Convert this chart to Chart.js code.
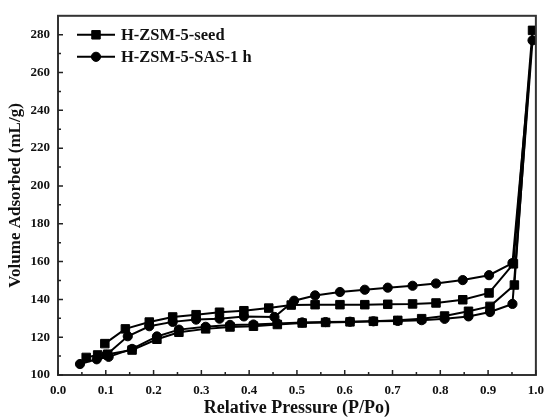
<!DOCTYPE html>
<html><head><meta charset="utf-8">
<script src="https://cdn.jsdelivr.net/npm/chart.js@4.4.0/dist/chart.umd.min.js"></script>
<style>html,body{margin:0;padding:0;background:#fff}</style>
</head><body>
<canvas id="c" width="552" height="419" style="width:552px;height:419px;display:block"></canvas>
<script>
const seriesNames = ['H-ZSM-5-seed', 'H-ZSM-5-SAS-1 h'];
const xTitle = 'Relative Pressure (P/Po)';
const yTitle = 'Volume Adsorbed (mL/g)';

// H-ZSM-5-seed: adsorption branch then desorption branch
const seedAdsP = [0.059, 0.083, 0.104, 0.155, 0.207, 0.253, 0.309, 0.360, 0.409, 0.459, 0.511, 0.560, 0.611, 0.660, 0.711, 0.761, 0.809, 0.859, 0.904, 0.955, 0.993];
const seedAdsV = [109.3, 110.6, 111.0, 113.2, 118.9, 122.6, 124.4, 125.4, 125.8, 126.7, 127.5, 127.8, 128.1, 128.4, 128.9, 129.8, 131.2, 133.7, 136.3, 147.6, 282.3];
const seedDesP = [0.953, 0.902, 0.847, 0.791, 0.742, 0.690, 0.642, 0.590, 0.538, 0.488, 0.441, 0.389, 0.338, 0.289, 0.240, 0.191, 0.141, 0.098];
const seedDesV = [158.8, 143.4, 139.8, 138.1, 137.6, 137.4, 137.2, 137.2, 137.2, 137.0, 135.4, 134.0, 133.2, 131.9, 130.7, 128.0, 124.4, 116.6];

// H-ZSM-5-SAS-1 h
const sasAdsP = [0.046, 0.081, 0.106, 0.155, 0.207, 0.253, 0.309, 0.360, 0.409, 0.459, 0.511, 0.560, 0.611, 0.660, 0.711, 0.761, 0.809, 0.859, 0.904, 0.951, 0.993];
const sasAdsV = [105.8, 108.3, 109.6, 113.8, 120.4, 124.0, 125.5, 126.5, 126.7, 127.3, 127.8, 128.0, 128.2, 128.4, 128.6, 129.0, 129.7, 131.0, 133.3, 137.6, 277.0];
const sasDesP = [0.951, 0.902, 0.847, 0.791, 0.742, 0.690, 0.642, 0.590, 0.538, 0.494, 0.453, 0.389, 0.338, 0.289, 0.240, 0.191, 0.146, 0.101];
const sasDesV = [159.2, 152.8, 150.2, 148.4, 147.2, 146.2, 145.1, 143.9, 142.1, 139.3, 130.7, 131.0, 129.8, 129.3, 128.1, 125.8, 120.5, 110.6];

const xMin = 0, xMax = 1, xStep = 0.1;
const yMin = 100, yMax = 290, yStep = 20;

function toPts(px, vy) { return px.map((p, i) => ({x: p, y: vy[i]})); }

const FONT = "'Liberation Serif', 'Times New Roman', serif";
const INK = '#111';

const framePlugin = {
  id: 'frame',
  afterDraw(chart) {
    const ctx = chart.ctx, a = chart.chartArea;
    const xs = chart.scales.x, ys = chart.scales.y;
    ctx.save();
    ctx.strokeStyle = '#333';
    ctx.lineWidth = 2;
    ctx.strokeRect(a.left, a.top, a.right - a.left, a.bottom - a.top);
    ctx.lineWidth = 1.5;
    ctx.strokeStyle = '#222';
    ctx.beginPath();
    xs.ticks.forEach(t => {
      const px = xs.getPixelForValue(t.value);
      ctx.moveTo(px, a.bottom); ctx.lineTo(px, a.bottom - 5);
      const m = t.value + xStep / 2;
      if (m < xMax) {
        const pm = xs.getPixelForValue(m);
        ctx.moveTo(pm, a.bottom); ctx.lineTo(pm, a.bottom - 3);
      }
    });
    ys.ticks.forEach(t => {
      const py = ys.getPixelForValue(t.value);
      ctx.moveTo(a.left, py); ctx.lineTo(a.left + 5, py);
      const m = t.value + yStep / 2;
      if (m < yMax) {
        const pm = ys.getPixelForValue(m);
        ctx.moveTo(a.left, pm); ctx.lineTo(a.left + 3, pm);
      }
    });
    ctx.stroke();

    // legend inside plot area
    const items = chart.data.datasets;
    const lx0 = a.left + 19, lx1 = a.left + 57, tx = a.left + 63;
    items.forEach((ds, i) => {
      const ly = a.top + 19 + i * 22;
      ctx.strokeStyle = ds.borderColor;
      ctx.lineWidth = 2;
      ctx.beginPath(); ctx.moveTo(lx0, ly); ctx.lineTo(lx1, ly); ctx.stroke();
      ctx.fillStyle = '#000';
      ctx.strokeStyle = '#000';
      ctx.lineWidth = 1;
      Chart.helpers.drawPoint(ctx, {pointStyle: ds.pointStyle, radius: ds.pointRadius, borderWidth: 1}, (lx0 + lx1) / 2, ly);
      ctx.font = "bold 16.5px " + FONT;
      ctx.fillStyle = INK;
      ctx.textBaseline = 'middle';
      ctx.textAlign = 'left';
      ctx.fillText(ds.label, tx, ly + 1);
    });
    ctx.restore();
  }
};

const chart = new Chart(document.getElementById('c'), {
  type: 'scatter',
  data: {
    datasets: [
      {
        label: seriesNames[0],
        data: toPts(seedAdsP, seedAdsV).concat(toPts(seedDesP, seedDesV)),
        showLine: true,
        borderColor: '#000',
        borderWidth: 2,
        backgroundColor: '#000',
        pointStyle: 'rect',
        pointRadius: 6,
        pointBackgroundColor: '#000',
        pointBorderColor: '#000',
        pointBorderWidth: 1,
        tension: 0
      },
      {
        label: seriesNames[1],
        data: toPts(sasAdsP, sasAdsV).concat(toPts(sasDesP, sasDesV)),
        showLine: true,
        borderColor: '#000',
        borderWidth: 2,
        backgroundColor: '#000',
        pointStyle: 'circle',
        pointRadius: 4.6,
        pointBackgroundColor: '#000',
        pointBorderColor: '#000',
        pointBorderWidth: 1,
        tension: 0
      }
    ]
  },
  options: {
    responsive: false,
    animation: false,
    devicePixelRatio: 1,
    layout: {padding: {top: 15, right: 9, left: 0, bottom: 0}},
    plugins: {legend: {display: false}, tooltip: {enabled: false}},
    scales: {
      x: {
        type: 'linear', min: xMin, max: xMax,
        grid: {display: false, drawTicks: false},
        border: {display: false},
        ticks: {stepSize: xStep, padding: 8, color: INK, font: {family: FONT, size: 13, weight: 'bold'},
                callback: v => Number(v).toFixed(1), maxRotation: 0},
        title: {display: true, text: xTitle, color: INK, font: {family: FONT, size: 18, weight: 'bold'}, padding: {top: 0, bottom: 0}},
        afterFit: s => { s.height = 44; }
      },
      y: {
        type: 'linear', min: yMin, max: yMax,
        grid: {display: false, drawTicks: false},
        border: {display: false},
        ticks: {stepSize: yStep, includeBounds: false, padding: 8, color: INK, font: {family: FONT, size: 13, weight: 'bold'}},
        title: {display: true, text: yTitle, color: INK, font: {family: FONT, size: 17, weight: 'bold'}, padding: {top: 5, bottom: 0}},
        afterFit: s => { s.width = 58; }
      }
    }
  },
  plugins: [framePlugin]
});
</script>
</body></html>
